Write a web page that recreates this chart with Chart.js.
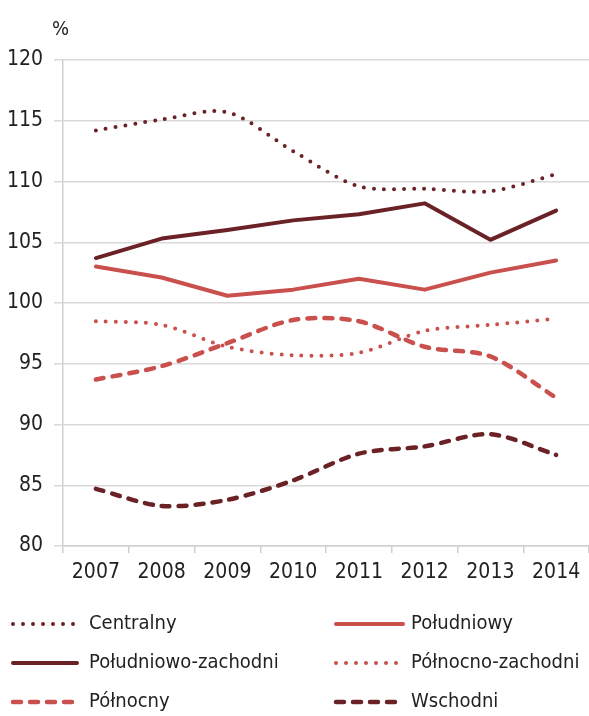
<!DOCTYPE html>
<html>
<head>
<meta charset="utf-8">
<script src="https://cdn.jsdelivr.net/npm/chart.js@4/dist/chart.umd.min.js"></script>
<style>
  html, body { margin: 0; padding: 0; background: #ffffff; overflow: hidden; }
  #wrap { position: absolute; left: 0; top: 0; width: 589px; height: 716px; }
</style>
</head>
<body>
<div id="wrap"><canvas id="c" width="589" height="716"></canvas></div>
<script>
// ---- data ----
const years = ['2007', '2008', '2009', '2010', '2011', '2012', '2013', '2014'];
const centralny = [114.2, 115.1, 115.7, 112.5, 109.6, 109.4, 109.2, 110.6];
const poludniowy = [103.0, 102.1, 100.6, 101.1, 102.0, 101.1, 102.5, 103.5];
const poludniowoZachodni = [103.7, 105.3, 106.0, 106.8, 107.3, 108.2, 105.2, 107.6];
const polnocnoZachodni = [98.5, 98.2, 96.4, 95.7, 95.9, 97.7, 98.2, 98.7];
const polnocny = [93.7, 94.8, 96.7, 98.6, 98.5, 96.4, 95.6, 92.2];
const wschodni = [84.7, 83.3, 83.8, 85.4, 87.6, 88.2, 89.2, 87.5];
const seriesNames = ['Centralny', 'Południowy', 'Południowo-zachodni', 'Północno-zachodni', 'Północny', 'Wschodni'];
const yMin = 80, yMax = 120, yStep = 5;
const unitLabel = '%';

// ---- styles ----
const DARK = '#6B2226';
const LIGHT = '#C9504C';
const FONT = "'Liberation Sans Narrow', 'Arial Narrow', 'DejaVu Sans Condensed', sans-serif";
const TXT = '#222222';
const DOT = [0, 10];
const DASH = [8, 9];

function ds(label, data, color, width, dash, tension) {
  return {
    label, data, borderColor: color, backgroundColor: color,
    borderWidth: width, borderDash: dash, borderCapStyle: 'round',
    borderJoinStyle: 'round', pointRadius: 0, pointHoverRadius: 0,
    fill: false, tension: tension
  };
}

const datasets = [
  ds(seriesNames[0], centralny, DARK, 4, DOT, 0.3),
  ds(seriesNames[1], poludniowy, LIGHT, 4, [], 0),
  ds(seriesNames[2], poludniowoZachodni, DARK, 4, [], 0),
  ds(seriesNames[3], polnocnoZachodni, LIGHT, 4, DOT, 0.3),
  ds(seriesNames[4], polnocny, LIGHT, 4.5, DASH, 0.3),
  ds(seriesNames[5], wschodni, DARK, 4.5, DASH, 0.3)
];

// legend layout: two columns, three rows
const legendCols = [{ x0: 13, x1: 77, tx: 89 }, { x0: 336, x1: 403, tx: 411 }];
const legendRows = [624, 663, 702];

const customDraw = {
  id: 'customDraw',
  afterDraw(chart) {
    const ctx = chart.ctx;
    ctx.save();
    ctx.fillStyle = TXT;
    ctx.font = '20px ' + FONT;
    ctx.textBaseline = 'middle';
    ctx.textAlign = 'left';
    ctx.fillText(unitLabel, 52, 30);
    chart.data.datasets.forEach((d, i) => {
      const col = legendCols[i % 2];
      const y = legendRows[Math.floor(i / 2)];
      ctx.beginPath();
      ctx.strokeStyle = d.borderColor;
      ctx.lineWidth = d.borderWidth;
      ctx.lineCap = 'round';
      ctx.setLineDash(d.borderDash || []);
      ctx.moveTo(col.x0, y);
      ctx.lineTo(col.x1, y);
      ctx.stroke();
      ctx.setLineDash([]);
      ctx.fillStyle = TXT;
      ctx.font = '20px ' + FONT;
      ctx.textBaseline = 'middle';
      ctx.fillText(d.label, col.tx, y);
    });
    ctx.restore();
  }
};

new Chart(document.getElementById('c'), {
  type: 'line',
  data: { labels: years, datasets },
  plugins: [customDraw],
  options: {
    responsive: false,
    animation: false,
    devicePixelRatio: 1,
    layout: { padding: { top: 60, left: 0, right: 0, bottom: 0 } },
    plugins: { legend: { display: false }, title: { display: false }, tooltip: { enabled: false } },
    scales: {
      x: {
        offset: true,
        grid: { offset: true, drawOnChartArea: false, drawTicks: true, tickLength: 7, color: '#d0d0d0', lineWidth: 1.5 },
        border: { color: '#d0d0d0', width: 1.5 },
        ticks: { font: { family: FONT, size: 21 }, color: TXT, padding: 7, maxRotation: 0, autoSkip: false },
        afterFit(s) { s.height = 170; }
      },
      y: {
        min: yMin, max: yMax,
        grid: { color: '#d9d9d9', lineWidth: 1.5, tickLength: 9 },
        border: { color: '#d0d0d0', width: 1.5 },
        ticks: { stepSize: yStep, font: { family: FONT, size: 21 }, color: TXT, padding: 11 },
        afterFit(s) { s.width = 63; }
      }
    }
  }
});
</script>
</body>
</html>
